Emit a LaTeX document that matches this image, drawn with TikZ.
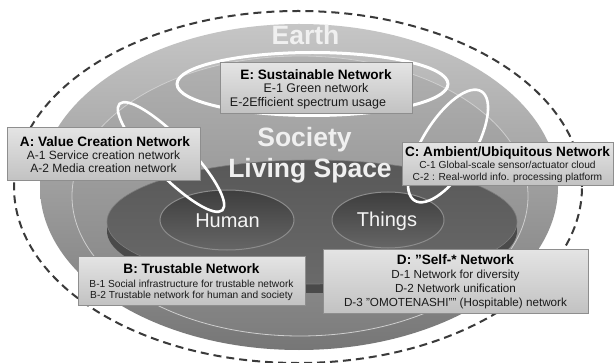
\documentclass[tikz,border=0pt]{standalone}
\usepackage{fontspec}
\setmainfont{Liberation Sans}
\definecolor{dashc}{HTML}{3A3A3A}
\definecolor{earthtop}{HTML}{C6C6C6}
\definecolor{earthbot}{HTML}{767676}
\definecolor{soctop}{HTML}{B2B2B2}
\definecolor{socbot}{HTML}{7E7E7E}
\definecolor{socrim}{HTML}{CFCFCF}
\definecolor{livside}{HTML}{4A4A4A}
\definecolor{livtop}{HTML}{585858}
\definecolor{livbot}{HTML}{6A6A6A}
\definecolor{htop}{HTML}{3E3E3E}
\definecolor{hbot}{HTML}{666666}
\definecolor{hrim}{HTML}{8C8C8C}
\definecolor{boxtop}{HTML}{E4E4E4}
\definecolor{boxbot}{HTML}{C2C2C2}
\definecolor{boxline}{HTML}{8E8E8E}
\definecolor{txt}{HTML}{1A1A1A}
\newcommand{\sq}{\symbol{34}}
\begin{document}
\begin{tikzpicture}[x=1pt,y=-1pt,
  box/.style={draw=boxline, line width=0.6pt, top color=boxtop, bottom color=boxbot, inner sep=0pt, anchor=north west},
  ttl/.style={font=\fontsize{13.6}{15}\selectfont\bfseries, text=black, inner sep=0pt, anchor=base},
  itmA/.style={font=\fontsize{12}{14}\selectfont, text=txt, inner sep=0pt, anchor=base},
  itmE/.style={font=\fontsize{12.5}{14}\selectfont, text=txt, inner sep=0pt, anchor=base},
  itmB/.style={font=\fontsize{10.2}{12}\selectfont, text=txt, inner sep=0pt, anchor=base},
  itmD/.style={font=\fontsize{11.7}{13}\selectfont, text=txt, inner sep=0pt, anchor=base},
  big/.style={font=\fontsize{26.5}{30}\selectfont\bfseries, text=white!94!black, inner sep=0pt, anchor=base},
  mid/.style={font=\fontsize{20}{24}\selectfont, text=white!96!black, inner sep=0pt, anchor=base},
  loopline/.style={draw=white, line width=2.6pt},
  dashring/.style={draw=dashc, line width=2pt, dash pattern=on 8pt off 5pt}
]
\useasboundingbox[fill=white] (0,0) rectangle (615,363);

% Earth disk
\path[top color=earthtop, bottom color=earthbot] (299,187) ellipse [x radius=259pt, y radius=163pt];
% Society layer
\path[top color=soctop, bottom color=socbot, draw=socrim, line width=0.8pt] (300,196) ellipse [x radius=228pt, y radius=140pt];
% E ring
\draw[white, line width=3pt] (312.5,84) ellipse [x radius=135.5pt, y radius=31.5pt];
% Living space (cylinder)
\path[fill=livside] (312,231) ellipse [x radius=205pt, y radius=62pt];
\path[top color=livtop, bottom color=livbot, draw=hrim!70!livtop, line width=0.6pt] (312,222) ellipse [x radius=205pt, y radius=62pt];
% Human and Things
\path[top color=htop, bottom color=hbot, draw=hrim, line width=1pt] (227,220) ellipse [x radius=67pt, y radius=30pt];
\path[top color=htop, bottom color=hbot, draw=hrim, line width=1pt] (388,220) ellipse [x radius=56pt, y radius=28pt];

% white loops
\draw[loopline, rotate around={-46:(171,157)}] (171,157) ellipse [x radius=74pt, y radius=19pt];
\draw[loopline, rotate around={58.6:(448,146)}] (448,146) ellipse [x radius=64pt, y radius=26pt];

% outer dashed ring
\draw[dashring] (298,187) ellipse [x radius=284pt, y radius=176pt];

% big labels
\node[big] (earth) at (305.5,45) {Earth};
\node[big] (society) at (304.5,147) {Society};
\node[big] (living) at (310,178) {Living Space};
\node[mid] (human) at (227.5,228) {Human};
\node[mid] (things) at (387,227) {Things};

% boxes
\node[box, minimum width=193pt, minimum height=53pt] (boxA) at (7,127) {};
\node[ttl] (tA) at (105,147) {A: Value Creation Network};
\node[itmA] (a1) at (103.5,160) {A-1 Service creation network};
\node[itmA] (a2) at (103.5,173) {A-2 Media creation network};

\node[box, minimum width=192pt, minimum height=51pt] (boxE) at (220,62) {};
\node[ttl] (tE) at (316,80) {E: Sustainable Network};
\node[itmE] (e1) at (316,93) {E-1 Green network};
\node[itmE] (e2) at (308,107) {E-2Efficient spectrum usage};

\node[box, minimum width=211pt, minimum height=43pt] (boxC) at (402,142) {};
\node[ttl] (tC) at (507.5,157) {C: Ambient/Ubiquitous Network};
\node[itmB] (c1) at (507.5,169) {C-1 Global-scale sensor/actuator cloud};
\node[itmB] (c2) at (507.5,181) {C-2 : Real-world info. processing platform};

\node[box, minimum width=227pt, minimum height=49pt] (boxB) at (78,256) {};
\node[ttl] (tB) at (191.5,273) {B: Trustable Network};
\node[itmB] (b1) at (191.5,287) {B-1 Social infrastructure for trustable network};
\node[itmB] (b2) at (191.5,298.5) {B-2 Trustable network for human and society};

\node[box, minimum width=265pt, minimum height=64pt] (boxD) at (323,249) {};
\node[ttl] (tD) at (455.5,264) {D: \sq Self-* Network};
\node[itmD] (d1) at (455.5,278) {D-1 Network for diversity};
\node[itmD] (d2) at (455.5,292) {D-2 Network unification};
\node[itmD] (d3) at (455.5,306) {D-3 \sq OMOTENASHI\sq\sq{} (Hospitable) network};
\end{tikzpicture}
\end{document}
